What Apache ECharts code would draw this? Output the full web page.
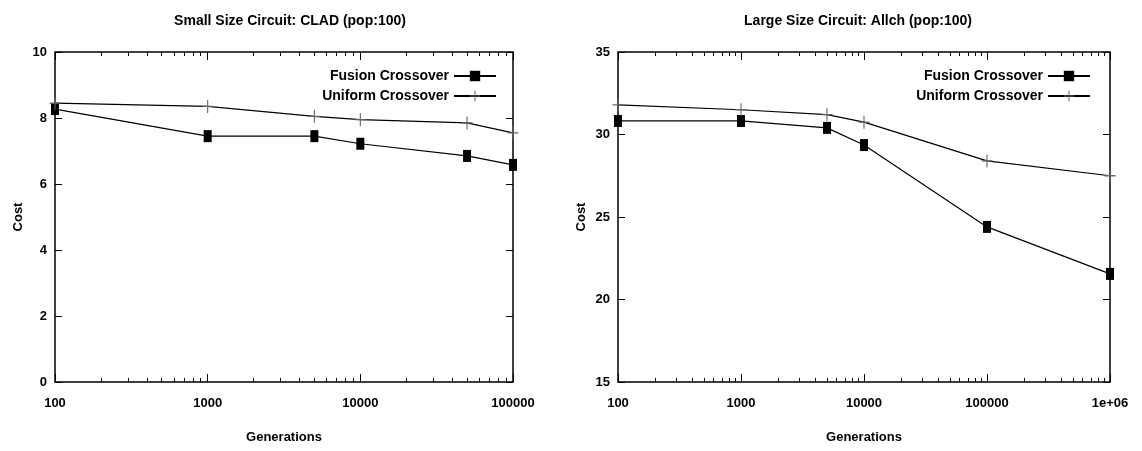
<!DOCTYPE html>
<html>
<head>
<meta charset="utf-8">
<script src="https://cdn.jsdelivr.net/npm/echarts@6/dist/echarts.min.js"></script>
<style>
html, body { margin: 0; background: #fff; }
#main { width: 1142px; height: 451px; }
</style>
</head>
<body>
<div id="main"></div>
<script>
// small circuit (CLAD)
const smallGens = [100, 1000, 5000, 10000, 50000, 100000];
const smallFusion = [8.27, 7.45, 7.45, 7.22, 6.85, 6.58];
const smallUniform = [8.45, 8.35, 8.05, 7.95, 7.85, 7.55];
const smallDecades = [100, 1000, 10000, 100000];

// large circuit (Allch)
const largeGens = [100, 1000, 5000, 10000, 100000, 1000000];
const largeFusion = [30.82, 30.82, 30.4, 29.36, 24.4, 21.55];
const largeUniform = [31.8, 31.5, 31.2, 30.75, 28.4, 27.5];
const largeDecades = [100, 1000, 10000, 100000, 1000000];

const names = ['Fusion Crossover', 'Uniform Crossover'];
const font = 'Liberation Sans';
const plus = 'path://M4.5,0H5.5V4.5H10V5.5H5.5V10H4.5V5.5H0V4.5H4.5Z';

function minorOf(decades) {
    let out = [];
    for (let i = 0; i < decades.length - 1; i++) {
        for (let k = 2; k <= 9; k++) out.push(k * decades[i]);
    }
    return out;
}

function xFmt(v) {
    return v >= 1000000 ? '1e+06' : String(v);
}

// 4 x axes per grid: bottom major(labels), bottom minor, top major, top minor
function xAxes(gi, decades) {
    let min = decades[0], max = decades[decades.length - 1];
    let base = {
        type: 'log', logBase: 10, gridIndex: gi, min: min, max: max,
        axisLine: { show: false }, splitLine: { show: false }
    };
    let minor = minorOf(decades);
    return [
        Object.assign({}, base, {
            position: 'bottom',
            name: 'Generations', nameLocation: 'middle', nameGap: 49,
            nameTextStyle: { fontFamily: font, fontWeight: 'bold', fontSize: 13, color: '#000' },
            axisTick: { inside: true, length: 8, customValues: decades, lineStyle: { color: '#000' } },
            axisLabel: { customValues: decades, formatter: xFmt, margin: 15, fontFamily: font, fontWeight: 'bold', fontSize: 13, color: '#000' }
        }),
        Object.assign({}, base, {
            position: 'bottom',
            axisTick: { inside: true, length: 4, customValues: minor, lineStyle: { color: '#000' } },
            axisLabel: { show: false }
        }),
        Object.assign({}, base, {
            position: 'top',
            axisTick: { inside: true, length: 8, customValues: decades, lineStyle: { color: '#000' } },
            axisLabel: { show: false }
        }),
        Object.assign({}, base, {
            position: 'top',
            axisTick: { inside: true, length: 4, customValues: minor, lineStyle: { color: '#000' } },
            axisLabel: { show: false }
        })
    ];
}

function yAxes(gi, min, max, interval) {
    let base = {
        type: 'value', gridIndex: gi, min: min, max: max, interval: interval,
        axisLine: { show: false }, splitLine: { show: false },
        axisTick: { inside: true, length: 7, lineStyle: { color: '#000' } }
    };
    return [
        Object.assign({}, base, {
            position: 'left',
            name: 'Cost', nameLocation: 'middle', nameGap: 30,
            nameTextStyle: { fontFamily: font, fontWeight: 'bold', fontSize: 13, color: '#000' },
            axisLabel: { margin: 8, fontFamily: font, fontWeight: 'bold', fontSize: 13, color: '#000' }
        }),
        Object.assign({}, base, { position: 'right', axisLabel: { show: false } })
    ];
}

function pairs(xs, ys) {
    return xs.map((x, i) => [x, ys[i]]);
}

function seriesFor(gi, xs, fusion, uniform) {
    return [{
        name: names[0], type: 'line', xAxisIndex: gi * 4, yAxisIndex: gi * 2,
        data: pairs(xs, fusion),
        symbol: 'rect', symbolSize: [8, 12],
        itemStyle: { color: '#000' },
        lineStyle: { color: '#000', width: 1.2 }
    }, {
        name: names[1], type: 'line', xAxisIndex: gi * 4, yAxisIndex: gi * 2,
        data: pairs(xs, uniform),
        symbol: plus, symbolSize: [11, 13],
        itemStyle: { color: '#666' },
        lineStyle: { color: '#000', width: 1.2 }
    }];
}

let legendText = { fontFamily: font, fontWeight: 'bold', fontSize: 14, color: '#000' };

let option = {
    animation: false,
    backgroundColor: '#fff',
    title: [{
        text: 'Small Size Circuit: CLAD (pop:100)',
        left: 285, top: 9, textAlign: 'center',
        textStyle: { fontFamily: font, fontWeight: 'bold', fontSize: 14, color: '#000' }
    }, {
        text: 'Large Size Circuit: Allch (pop:100)',
        left: 853, top: 9, textAlign: 'center',
        textStyle: { fontFamily: font, fontWeight: 'bold', fontSize: 14, color: '#000' }
    }],
    legend: [{
        data: names, orient: 'vertical', align: 'right',
        right: 640, top: 64, itemWidth: 42, itemHeight: 13, itemGap: 6,
        textStyle: legendText
    }, {
        data: names, orient: 'vertical', align: 'right',
        right: 46, top: 64, itemWidth: 42, itemHeight: 13, itemGap: 6,
        textStyle: legendText
    }],
    grid: [{
        left: 55, top: 52, width: 458, height: 330,
        show: true, borderColor: '#000', borderWidth: 1.5, outerBoundsMode: 'none'
    }, {
        left: 618, top: 52, width: 492, height: 330,
        show: true, borderColor: '#000', borderWidth: 1.5, outerBoundsMode: 'none'
    }],
    xAxis: xAxes(0, smallDecades).concat(xAxes(1, largeDecades)),
    yAxis: yAxes(0, 0, 10, 2).concat(yAxes(1, 15, 35, 5)),
    series: seriesFor(0, smallGens, smallFusion, smallUniform)
        .concat(seriesFor(1, largeGens, largeFusion, largeUniform))
};

let chart = echarts.init(document.getElementById('main'));
chart.setOption(option);
</script>
</body>
</html>
